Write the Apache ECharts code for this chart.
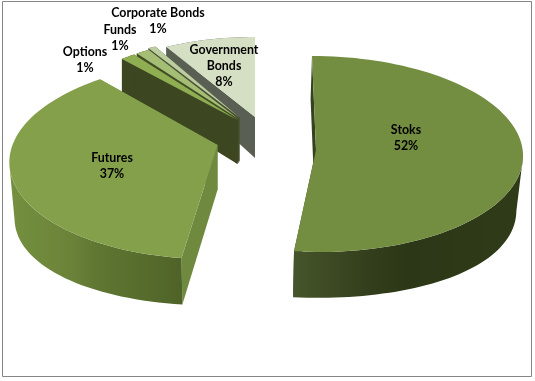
<!DOCTYPE html>
<html>
<head>
<meta charset="utf-8">
<style>html,body{margin:0;padding:0;background:#fff}#c{width:535px;height:381px}</style>
<script src="https://cdn.jsdelivr.net/npm/echarts@6/dist/echarts.min.js"></script>
</head>
<body>
<div id="c"></div>
<script>
// Data
const categories = ['Stoks', 'Futures', 'Options', 'Funds', 'Corporate Bonds', 'Government Bonds'];
const values = [52, 36.6, 1.4, 1.3, 0.7, 8];
const labelText = ['Stoks', 'Futures', 'Options', 'Funds', 'Corporate Bonds', 'Government\nBonds'];

// Appearance of each slice: exploded apex, ellipse radii, perspective, depth
const looks = [
  {ax:316, ay:150, rx:207, ry:98, k:0,   b:4, sh:-4, d:44.5, dk:.03, e:10, bs:.975, bx:-1.5, top:'#738d41', side:'#35421f', lx:406, ly:138,
   wall:['#46552b','#323d1b','#2c3717','#2f3b18']},
  {ax:217.5, ay:145, rx:205, ry:97, k:.15, b:0, sh:5, d:45, dk:.03, e:11, bs:.975, bx:0, top:'#84a04b', side:'#6f8a3f', lx:112, ly:166,
   wall:['#75903f','#6b8339','#5f7732','#4f6328']},
  {ax:237.5, ay:120, rx:176, ry:81, k:0, b:0, sh:0, d:44, dk:.3, e:0, bs:1, bx:0, top:'#8fae52', side:'#3c4721', lx:85, ly:60},
  {ax:238.5, ay:119, rx:173, ry:81, k:0, b:0, sh:0, d:44, dk:.3, e:0, bs:1, bx:0, top:'#a5be75', side:'#414d25', lx:120, ly:38},
  {ax:239.5, ay:117.5, rx:175, ry:81, k:0, b:0, sh:0, d:44, dk:.3, e:0, bs:1, bx:0, top:'#bccda0', side:'#4a5135', lx:158, ly:21},
  {ax:255, ay:117, rx:184, ry:80, k:0, b:0, sh:0, d:41, dk:.3, e:0, bs:1, bx:0, top:'#d4dfc3', side:'#5a5f53', lx:224, ly:66}
];
const drawOrder = [5, 4, 3, 2, 0, 1];
const total = values.reduce((a, b) => a + b, 0);
const labelFont = 'bold 12.4px Lato, "Open Sans", sans-serif';

function topPoint(g, deg) {
  const t = deg * Math.PI / 180, S = Math.sin(t), C = Math.cos(t), w = 1 + g.k * C;
  return [g.ax + (g.rx * S + g.sh * C) / w, g.ay + g.b - g.ry * C / w];
}
function lowPoint(g, deg) {
  const t = deg * Math.PI / 180, p = topPoint(g, deg), C = Math.cos(t), S = Math.sin(t);
  return [g.ax + g.bx + (p[0] - g.ax) * g.bs, p[1] + g.d * (1 - g.dk * C) + g.e * S * S];
}
function apexPoint(g, low) {
  return low ? [g.ax + g.bx, g.ay + g.d] : [g.ax, g.ay];
}

function renderSlice(params, api) {
  const i = api.value(0), value = api.value(1);
  const g = looks[i];
  let before = 0;
  for (let j = 0; j < i; j++) before += values[j];
  const a0 = before / total * 360, a1 = (before + value) / total * 360;
  const steps = Math.max(4, Math.ceil((a1 - a0) / 2));
  const arcTop = [], arcLow = [], angles = [];
  for (let s = 0; s <= steps; s++) {
    const a = a0 + (a1 - a0) * s / steps;
    angles.push(a);
    arcTop.push(topPoint(g, a));
    arcLow.push(lowPoint(g, a));
  }
  // The outer wall only shows from the silhouette point round to the front
  let from = 0, to = steps;
  if (g.wall) {
    const xs = arcTop.map(p => p[0]);
    if (a0 < 90) from = xs.indexOf(Math.max(...xs));
    else to = xs.indexOf(Math.min(...xs));
  }
  const wallTop = arcTop.slice(from, to + 1), wallLow = arcLow.slice(from, to + 1);
  const wallFill = g.wall
    ? new echarts.graphic.LinearGradient(0, 0, 1, 0, [
        {offset: 0, color: g.wall[0]}, {offset: .35, color: g.wall[1]},
        {offset: .5, color: g.wall[2]}, {offset: 1, color: g.wall[3]}])
    : g.side;
  const pct = Math.round(value / total * 100);
  return {
    type: 'group',
    children: [
      {type: 'polygon', shape: {points: [apexPoint(g), arcTop[0], arcLow[0], apexPoint(g, true)]},
       style: {fill: g.side}},
      {type: 'polygon', shape: {points: [apexPoint(g), arcTop[steps], arcLow[steps], apexPoint(g, true)]},
       style: {fill: g.side}},
      {type: 'polygon', shape: {points: wallTop.concat(wallLow.slice().reverse())},
       style: {fill: wallFill}},
      {type: 'polygon', shape: {points: [apexPoint(g)].concat(arcTop)}, style: {fill: g.top}},
      {type: 'text', z2: 100, style: {
        x: g.lx, y: g.ly, text: labelText[i] + '\n' + pct + '%', font: labelFont,
        lineHeight: 16, fill: '#000', align: 'center', verticalAlign: 'middle'}}
    ]
  };
}

const chart = echarts.init(document.getElementById('c'), null, {renderer: 'canvas', width: 535, height: 381});
chart.setOption({
  animation: false,
  backgroundColor: '#ffffff',
  graphic: [{type: 'rect', z: -1, shape: {x: 2.5, y: 1.5, width: 529, height: 375},
             style: {fill: '#ffffff', stroke: '#868686', lineWidth: 1}}],
  series: [{
    type: 'custom',
    coordinateSystem: 'none',
    renderItem: renderSlice,
    silent: true,
    data: drawOrder.map(i => ({name: categories[i], value: [i, values[i]]}))
  }]
});
</script>
</body>
</html>
